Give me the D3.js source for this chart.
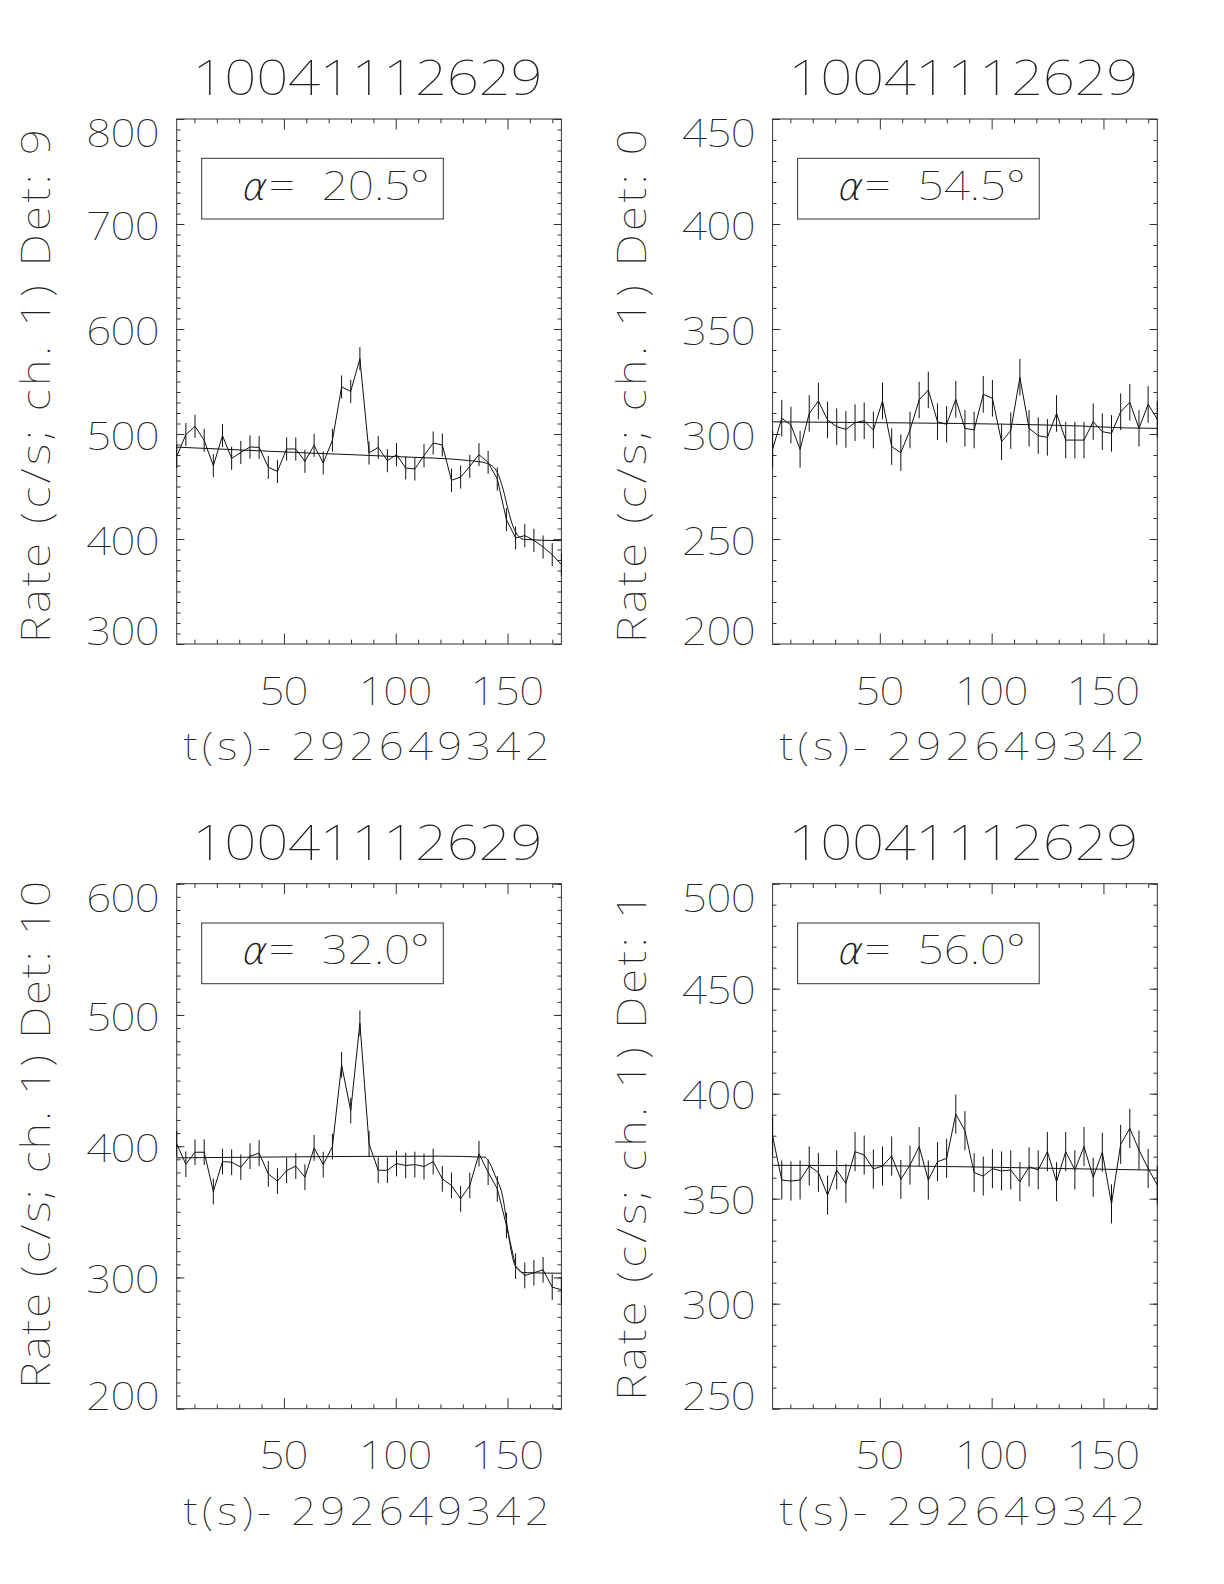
<!DOCTYPE html>
<html><head><meta charset="utf-8"><script src="https://cdn.jsdelivr.net/npm/d3@7"></script></head>
<body style="margin:0;background:#fff">
<svg id="vis"></svg>
<script>
// time bins (s after 292649342), same for all four detectors
const timeSec = [2.05, 6.14, 10.24, 14.34, 18.43, 22.53, 26.62, 30.72, 34.82, 38.91, 43.01, 47.10, 51.20, 55.30,
    59.39, 63.49, 67.58, 71.68, 75.78, 79.87, 83.97, 88.06, 92.16, 96.26, 100.35, 104.45, 108.54, 112.64, 116.74,
    120.83, 124.93, 129.02, 133.12, 137.22, 141.31, 145.41, 149.50, 153.60, 157.70, 161.79, 165.89, 169.98, 174.08]

// measured rates (c/s, channel 1)
const rateDet9 = [478.7, 499.4, 507.3, 494.0, 469.8, 498.4, 476.8, 482.5, 487.6, 487.3, 468.3, 464.4, 485.7, 485.7,
    474.0, 489.2, 472.4, 494.0, 544.8, 540.6, 571.7, 481.9, 487.3, 474.6, 480.3, 467.6, 466.7, 479.4, 491.4,
    489.5, 455.9, 459.0, 469.2, 480.3, 473.0, 457.1, 418.4, 401.0, 403.2, 398.7, 392.4, 385.1, 375.6]
const rateDet0 = [292.7, 307.5, 304.3, 292.7, 309.8, 315.7, 306.7, 303.5, 302.2, 305.4, 306.3, 301.9, 315.7, 294.0,
    291.1, 301.9, 316.2, 321.0, 305.9, 304.6, 316.5, 302.7, 301.9, 318.9, 317.0, 296.3, 301.6, 327.0, 302.7,
    299.2, 298.4, 309.8, 297.1, 297.1, 297.1, 305.9, 301.1, 300.3, 310.6, 315.1, 302.7, 314.1, 307.0]
const rateDet10 = [401.8, 386.3, 395.4, 395.4, 365.5, 388.3, 387.8, 384.0, 392.4, 394.7, 378.9, 373.4, 381.5, 384.8,
    376.4, 398.7, 386.0, 399.7, 462.0, 427.1, 493.7, 401.8, 381.7, 381.7, 386.8, 385.3, 386.0, 384.5, 388.3,
    375.1, 370.1, 359.9, 370.1, 394.2, 380.2, 367.5, 339.6, 308.6, 301.5, 303.6, 305.8, 292.6, 290.6]
const rateDet1 = [379.8, 358.9, 358.4, 358.9, 365.6, 362.5, 351.7, 363.7, 357.3, 372.4, 370.8, 364.1, 365.6, 370.3,
    359.2, 366.0, 374.8, 358.9, 367.6, 369.2, 390.3, 382.4, 362.4, 360.8, 364.3, 363.2, 363.7, 358.1, 365.2,
    363.7, 372.4, 358.1, 372.4, 363.7, 374.8, 360.2, 372.1, 347.5, 375.9, 383.5, 373.2, 364.4, 356.5]

// half-length of the error bars, per detector
const errDet = [11.0, 8.7, 9.8, 9.3]

// fitted background model
const modelT9 = [2.05, 60, 100, 133.2, 140.6, 144.8, 148.1, 150.3, 152.5, 154.8, 157.0, 174.08]
const modelDet9 = [487.5, 482.0, 478.5, 474.6, 472.1, 465.7, 446.7, 427.6, 411.7, 402.9, 399.7, 398.4]
const modelT0 = [2.05, 60, 110, 140, 160, 174.08]
const modelDet0 = [305.8, 305.3, 304.6, 303.8, 302.9, 302.7]
const modelT10 = [2.05, 40, 80, 120, 139.9, 141.4, 144.3, 148.1, 150.3, 152.5, 154.8, 157.0, 174.08]
const modelDet10 = [391.1, 391.7, 392.2, 392.4, 391.6, 389.0, 378.1, 359.1, 333.7, 313.4, 305.8, 303.7, 303.2]
const modelT1 = [2.05, 60, 110, 140, 174.08]
const modelDet1 = [365.9, 365.6, 364.8, 364.2, 363.6]

// axes
const xDomain = [2.048, 174.08]
const xMajorTicks = [50, 100, 150]
const yDomains = [[300, 800], [200, 450], [200, 600], [250, 500]]
const yMajorStep = [100, 50, 100, 50]
const yMinorStep = 10

// labels
const titleText = '10041112629'
const xTitleText = 't(s)- 292649342'
const detNames = ['9', '0', '10', '1']
const alphaDeg = ['20.5', '54.5', '32.0', '56.0']

// layout
const PLOT_W = 384.7
const PLOT_H = 525
const LEFTS = [176.7, 772.6]
const TOPS = [119, 883.7]
const FONT = "'Noto Sans', sans-serif"
const INK = '#222'
const SX = 1.15 // hershey-like glyphs are wider than Noto's

var svg = d3.select('#vis')
    .attr('width', 1224)
    .attr('height', 1584)

const panels = [
    {rate: rateDet9, mt: modelT9, mv: modelDet9, col: 0, row: 0, yt: [267, 514]},
    {rate: rateDet0, mt: modelT0, mv: modelDet0, col: 1, row: 0, yt: [267, 514]},
    {rate: rateDet10, mt: modelT10, mv: modelDet10, col: 0, row: 1, yt: [251, 508]},
    {rate: rateDet1, mt: modelT1, mv: modelDet1, col: 1, row: 1, yt: [263, 508]}
]

// thin text, stretched horizontally; len is the wanted width on the page
function addText(g, str, x, y, size, len, extra) {
    var t = g.append('text')
        .attr('transform', `translate(${x},${y}) ${extra || ''} scale(${SX},1)`)
        .attr('font-family', FONT)
        .attr('font-weight', 100)
        .attr('font-size', size)
        .attr('fill', INK)
        .attr('xml:space', 'preserve')
        .text(str)
    if (len) t.attr('textLength', len / SX).attr('lengthAdjust', 'spacing')
    return t
}

function drawPanel(p, k) {
    var left = LEFTS[p.col], top = TOPS[p.row]
    var bottom = top + PLOT_H, right = left + PLOT_W
    var x = d3.scaleLinear().domain(xDomain).range([left, right])
    var y = d3.scaleLinear().domain(yDomains[k]).range([bottom, top])
    var g = svg.append('g')

    // frame
    g.append('rect')
        .attr('x', left).attr('y', top)
        .attr('width', PLOT_W).attr('height', PLOT_H)
        .attr('fill', 'none').attr('stroke', '#333').attr('stroke-width', 1)

    // ticks, pointing inward on all four sides
    var xMinor = d3.range(10, 171, 10).filter(v => xMajorTicks.indexOf(v) < 0)
    var yMinor = d3.range(yDomains[k][0], yDomains[k][1] + 1, yMinorStep)
    var yMajor = d3.range(yDomains[k][0], yDomains[k][1] + 1, yMajorStep[k])
    var axes = [
        [d3.axisBottom(x).tickValues(xMinor).tickSize(-4.3), bottom, 0],
        [d3.axisBottom(x).tickValues(xMajorTicks).tickSize(-10.5), bottom, 0],
        [d3.axisTop(x).tickValues(xMinor).tickSize(-4.3), top, 0],
        [d3.axisTop(x).tickValues(xMajorTicks).tickSize(-10.5), top, 0],
        [d3.axisLeft(y).tickValues(yMinor).tickSize(-3.9), 0, left],
        [d3.axisLeft(y).tickValues(yMajor).tickSize(-7.7), 0, left],
        [d3.axisRight(y).tickValues(yMinor).tickSize(-3.9), 0, right],
        [d3.axisRight(y).tickValues(yMajor).tickSize(-7.7), 0, right]
    ]
    axes.forEach(function(a) {
        var ag = g.append('g')
            .attr('transform', `translate(${a[2]},${a[1]})`)
            .call(a[0].tickFormat(''))
        ag.select('.domain').remove()
        ag.selectAll('line').attr('stroke', '#333').attr('stroke-width', 1)
    })

    // tick labels
    xMajorTicks.forEach(function(v) {
        addText(g, String(v), x(v), bottom + 60.5, 38, String(v).length * 24.5)
            .attr('text-anchor', 'middle')
    })
    yMajor.forEach(function(v) {
        var base = Math.min(Math.max(y(v) + 15.6, top + 28), bottom + 1)
        addText(g, String(v), left - 17, base, 38, String(v).length * 24.5)
            .attr('text-anchor', 'end')
    })

    // titles
    addText(g, titleText, (left + right) / 2 - 1.5, top - 24, 49, 350)
        .attr('text-anchor', 'middle')
    addText(g, xTitleText, left + 7, bottom + 116, 38, 366)
    var yTitle = 'Rate (c/s; ch. 1) Det: ' + detNames[k]
    addText(g, yTitle, left - 126.5, top + p.yt[0], 40, p.yt[1], 'rotate(-90)')
        .attr('text-anchor', 'middle')

    // alpha box
    g.append('rect')
        .attr('x', left + 25).attr('y', top + 39.3)
        .attr('width', 241.6).attr('height', 60.7)
        .attr('fill', 'none').attr('stroke', '#333').attr('stroke-width', 1)
    g.append('text')
        .attr('transform', `translate(${left + 63},${top + 80.5}) skewX(-14)`)
        .attr('font-family', "'DejaVu Sans', sans-serif")
        .attr('font-weight', 200)
        .attr('font-size', 38)
        .attr('fill', INK)
        .text('\u03b1')
    addText(g, '=', left + 92, top + 80.5, 40)
    addText(g, alphaDeg[k] + '\u00b0', left + 145, top + 80.5, 40, 108)

    // error bars
    g.selectAll('line.err')
        .data(p.rate)
        .join('line')
        .attr('class', 'err')
        .attr('x1', (d, i) => x(timeSec[i]))
        .attr('x2', (d, i) => x(timeSec[i]))
        .attr('y1', d => y(d - errDet[k]))
        .attr('y2', d => y(d + errDet[k]))
        .attr('stroke', '#111').attr('stroke-width', 1)

    // data polyline
    g.append('path')
        .datum(p.rate)
        .attr('d', d3.line().x((d, i) => x(timeSec[i])).y(d => y(d)))
        .attr('fill', 'none').attr('stroke', '#111').attr('stroke-width', 1)

    // model
    g.append('path')
        .datum(p.mv)
        .attr('d', d3.line().curve(d3.curveMonotoneX).x((d, i) => x(p.mt[i])).y(d => y(d)))
        .attr('fill', 'none').attr('stroke', '#111').attr('stroke-width', 1)
}

panels.forEach(drawPanel)
</script>
</body></html>
